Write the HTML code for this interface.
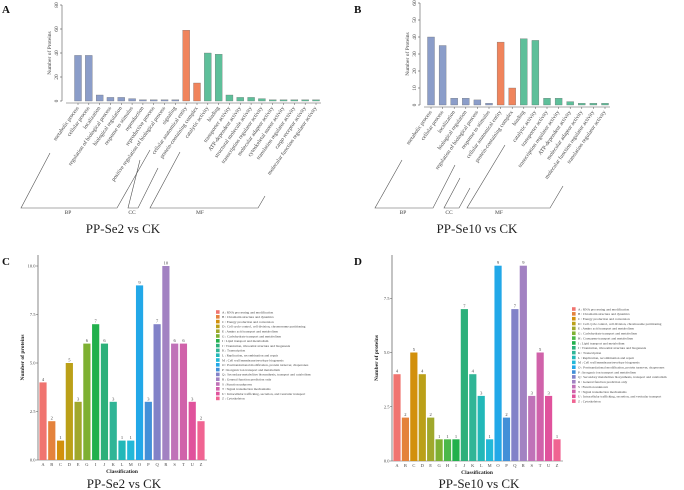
<!DOCTYPE html>
<html><head><meta charset="utf-8"><style>
body{margin:0;background:#fff;}
svg{display:block;font-family:"Liberation Serif",serif;}
</style></head><body>
<svg id="fig" width="684" height="490" viewBox="0 0 684 490"></svg>
<script>
const goA_labels=["metabolic process","cellular process","localization","regulation of biological process","biological regulation","response to stimulus","reproduction","reproductive process","positive regulation of biological process","signaling","cellular anatomical entity","protein-containing complex","catalytic activity","binding","transporter activity","ATP-dependent activity","structural molecule activity","transcription regulator activity","molecular adaptor activity","cytoskeletal motor activity","translation regulator activity","cargo receptor activity","molecular function regulator activity"];
const goA_groups=["BP","BP","BP","BP","BP","BP","BP","BP","BP","BP","CC","CC","MF","MF","MF","MF","MF","MF","MF","MF","MF","MF","MF"];
const goA_values=[38,38,5,3,3,2,1,1,1,1,59,15,40,39,5,3,3,2,1,1,1,1,1];
const goA_ticks=[0,20,40,60,80];
const goB_labels=["metabolic process","cellular process","localization","biological regulation","regulation of biological process","response to stimulus","cellular anatomical entity","protein-containing complex","binding","catalytic activity","transporter activity","transcription regulator activity","ATP-dependent activity","molecular adaptor activity","molecular function regulator activity","translation regulator activity"];
const goB_groups=["BP","BP","BP","BP","BP","BP","CC","CC","MF","MF","MF","MF","MF","MF","MF","MF"];
const goB_values=[40,35,4,4,3,1,37,10,39,38,4,4,2,1,1,1];
const goB_ticks=[0,10,20,30,40,50,60];
const cogC_letters=["A","B","C","D","E","G","I","J","K","L","M","O","P","Q","R","S","T","U","Z"];
const cogC_values=[4,2,1,5,3,6,7,6,3,1,1,9,3,7,10,6,6,3,2];
const cogD_letters=["A","B","C","D","E","G","H","I","J","K","L","M","O","P","Q","R","S","T","U","Z"];
const cogD_values=[4,2,5,4,2,1,1,1,7,4,3,1,9,2,7,9,3,5,3,1];
const cog_ticks=[0,2.5,5,7.5,10];
const cogNames={A:"RNA processing and modification",B:"Chromatin structure and dynamics",C:"Energy production and conversion",D:"Cell cycle control, cell division, chromosome partitioning",E:"Amino acid transport and metabolism",G:"Carbohydrate transport and metabolism",H:"Coenzyme transport and metabolism",I:"Lipid transport and metabolism",J:"Translation, ribosomal structure and biogenesis",K:"Transcription",L:"Replication, recombination and repair",M:"Cell wall/membrane/envelope biogenesis",O:"Posttranslational modification, protein turnover, chaperones",P:"Inorganic ion transport and metabolism",Q:"Secondary metabolites biosynthesis, transport and catabolism",R:"General function prediction only",S:"Function unknown",T:"Signal transduction mechanisms",U:"Intracellular trafficking, secretion, and vesicular transport",Z:"Cytoskeleton"};
const cogColors={A:"#f07470",B:"#e4823c",C:"#d2900c",D:"#bba018",E:"#a0a82c",G:"#7eb032",H:"#4cb84a",I:"#22b04c",J:"#2cb07a",K:"#30b596",L:"#22b8b8",M:"#22b8d8",O:"#22a8e8",P:"#4290d8",Q:"#8282c8",R:"#a282c2",S:"#c072b8",T:"#d062aa",U:"#e0529c",Z:"#f06492"};
const goColors={BP:"#8b9dc9",CC:"#f0845c",MF:"#5ebf9a"};

const svg=document.getElementById('fig');
const NS="http://www.w3.org/2000/svg";
function mk(tag,attrs,txt){const e=document.createElementNS(NS,tag);for(const k in attrs)e.setAttribute(k,attrs[k]);if(txt!==undefined)e.textContent=txt;svg.appendChild(e);return e;}

function goPanel(o){
  const y=v=>o.y0-(v-o.ticks[0])/(o.ticks[o.ticks.length-1]-o.ticks[0])*(o.y0-o.y1);
  const x=i=>o.x0+i*(o.x1-o.x0)/(o.values.length-1);
  let ax=mk('line',{x1:o.ax,y1:y(o.ticks[0]),x2:o.ax,y2:y(o.ticks[o.ticks.length-1]),stroke:"#555","stroke-width":0.6});
  
  o.ticks.forEach(t=>{
    const tk=mk('line',{x1:o.ax-2,y1:y(t),x2:o.ax,y2:y(t),stroke:"#555","stroke-width":0.6});
    
    const tl=mk('text',{x:o.ax-4,y:y(t),"font-size":5.5,fill:"#444","text-anchor":"middle",transform:`rotate(-90 ${o.ax-4} ${y(t)})`},t);
    
  });
  const yt=mk('text',{x:o.ax-11,y:(o.y0+o.y1)/2,"font-size":5.5,fill:"#444","text-anchor":"middle",transform:`rotate(-90 ${o.ax-11} ${(o.y0+o.y1)/2})`},"Number of Proteins");
  
  const bl=mk('line',{x1:o.ax+4,y1:o.y0+2,x2:o.x1+5,y2:o.y0+2,stroke:"#555","stroke-width":0.6});
  
  o.values.forEach((v,i)=>{
    const b=mk('rect',{x:x(i)-3.5,y:y(v),width:7,height:o.y0-y(v),fill:goColors[o.groups[i]],stroke:"#666","stroke-width":0.3});
    
    const tk=mk('line',{x1:x(i),y1:o.y0+2,x2:x(i),y2:o.y0+4,stroke:"#555","stroke-width":0.5});
    
    const lx=x(i)+1,ly=o.y0+7;
    const l=mk('text',{x:lx,y:ly,"font-size":5.6,fill:"#444","text-anchor":"end",transform:`rotate(-55 ${lx} ${ly})`},o.labels[i]);
    
  });
  o.brackets.forEach(br=>{
    const p=mk('polyline',{points:br.pts,fill:"none",stroke:"#555","stroke-width":0.6});
    
    const t=mk('text',{x:br.lx,y:214,"font-size":5.5,fill:"#444","text-anchor":"middle"},br.name);
    
  });
  const ti=mk('text',{x:o.tx,y:233,"font-size":13,fill:"#222","text-anchor":"middle"},o.title);
  
  const pl=mk('text',{x:o.px,y:13,"font-size":11,"font-weight":"bold",fill:"#111"},o.letter);
  
}

goPanel({id:"panel-a",letter:"A",px:2,labels:goA_labels,groups:goA_groups,values:goA_values,ticks:goA_ticks,ax:62,y0:101,y1:5,x0:78,x1:316,tx:123,title:"PP-Se2 vs CK",
  brackets:[{name:"BP",lx:68,pts:"50,153 21,208 117,208 150,150"},{name:"CC",lx:132,pts:"140,160 128,208 138,208 158,168"},{name:"MF",lx:200,pts:"180,152 150,208 258,208 265,196"}]});
goPanel({id:"panel-b",letter:"B",px:354,labels:goB_labels,groups:goB_groups,values:goB_values,ticks:goB_ticks,ax:420,y0:105,y1:3,x0:431,x1:605,tx:477,title:"PP-Se10 vs CK",
  brackets:[{name:"BP",lx:403,pts:"402,160 375,208 433,208 455,165"},{name:"CC",lx:449,pts:"460,178 444,208 459,208 470,188"},{name:"MF",lx:499,pts:"505,145 467,208 550,208 563,186"}]});

function cogPanel(o){
  const max=o.ticks[o.ticks.length-1];
  const y=v=>o.y0-v/max*(o.y0-o.y10);
  const x=i=>o.x0+i*(o.x1-o.x0)/(o.values.length-1);
  const ax=mk('line',{x1:o.ax,y1:o.y0,x2:o.ax,y2:o.ytop,stroke:"#555","stroke-width":0.7});
  
  const bx=mk('line',{x1:o.ax,y1:o.y0,x2:o.x1+6,y2:o.y0,stroke:"#555","stroke-width":0.5});
  
  o.ticks.forEach(t=>{
    if(y(t)<o.ytop-1)return;
    const tk=mk('line',{x1:o.ax-2,y1:y(t),x2:o.ax,y2:y(t),stroke:"#555","stroke-width":0.5});
    
    const tl=mk('text',{x:o.ax-2.5,y:y(t)+1.5,"font-size":4.5,fill:"#444","text-anchor":"end"},t.toFixed(1));
    
  });
  const cy=(o.y0+o.ytop)/2;
  const yt=mk('text',{x:o.ax-14,y:cy,"font-size":5.5,"font-weight":"bold",fill:"#222","text-anchor":"middle",transform:`rotate(-90 ${o.ax-14} ${cy})`},"Number of proteins");
  
  o.values.forEach((v,i)=>{
    const L=o.letters[i];
    const b=mk('rect',{x:x(i)-3.6,y:y(v),width:7.2,height:o.y0-y(v),fill:cogColors[L]});
    
    const vl=mk('text',{x:x(i),y:y(v)-1.5,"font-size":4.5,fill:"#444","text-anchor":"middle"},v);
    
    const xl=mk('text',{x:x(i),y:o.y0+6,"font-size":4.5,fill:"#444","text-anchor":"middle"},L);
    
  });
  const xt=mk('text',{x:(o.x0+o.x1)/2,y:o.y0+13,"font-size":5.5,"font-weight":"bold",fill:"#222","text-anchor":"middle"},"Classification");
  
  o.letters.forEach((L,i)=>{
    const ly=o.ly+i*o.lstep;
    const sw=mk('rect',{x:o.lx,y:ly-1.8,width:3.6,height:3.6,fill:cogColors[L]});
    
    const lt=mk('text',{x:o.lx+6,y:ly+1.3,"font-size":3.4,fill:"#444"},L+" : "+cogNames[L]);
    
  });
  const ti=mk('text',{x:(o.x0+o.x1)/2+2,y:488,"font-size":13,fill:"#222","text-anchor":"middle"},o.title);
  
  const pl=mk('text',{x:o.px,y:265,"font-size":11,"font-weight":"bold",fill:"#111"},o.letter);
  
}
cogPanel({id:"panel-c",letter:"C",px:2,letters:cogC_letters,values:cogC_values,ticks:cog_ticks,ax:38,y0:460,y10:266,ytop:255,x0:43,x1:201,lx:216,ly:312,lstep:4.8,title:"PP-Se2 vs CK"});
cogPanel({id:"panel-d",letter:"D",px:354,letters:cogD_letters,values:cogD_values,ticks:cog_ticks,ax:392,y0:461,y10:244,ytop:255,x0:397,x1:557,lx:572,ly:309,lstep:4.85,title:"PP-Se10 vs CK"});
</script>
</body></html>
